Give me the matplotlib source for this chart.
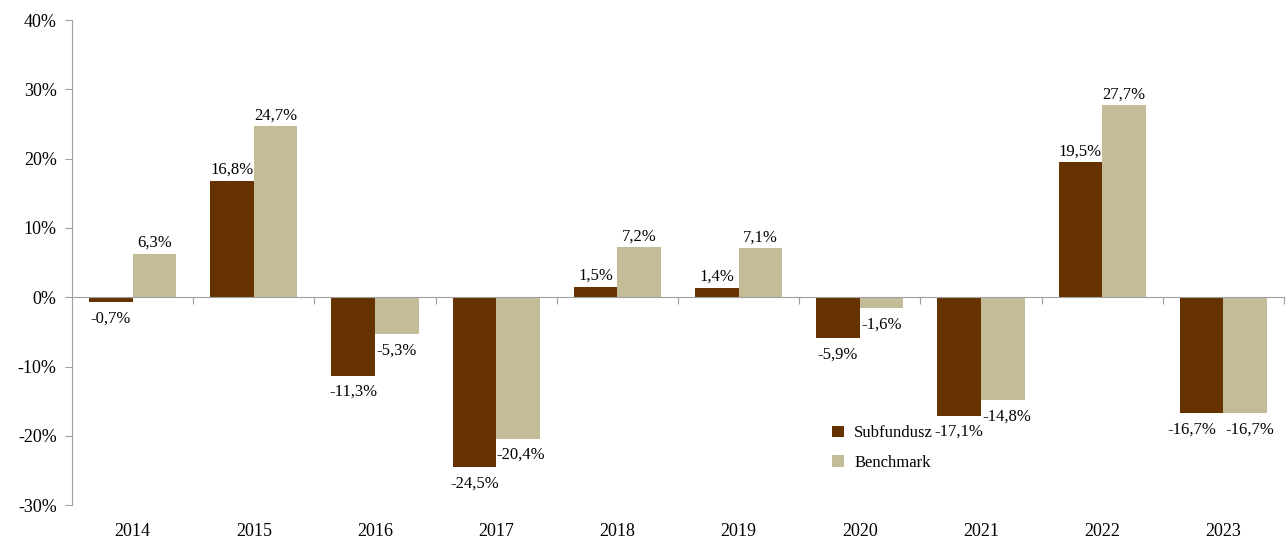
import numpy as np
import matplotlib
matplotlib.use("Agg")
import matplotlib.pyplot as plt
from matplotlib.ticker import FuncFormatter
import matplotlib.transforms as mtransforms

years = ["2014", "2015", "2016", "2017", "2018", "2019", "2020", "2021", "2022", "2023"]
subfundusz = [-0.7, 16.8, -11.3, -24.5, 1.5, 1.4, -5.9, -17.1, 19.5, -16.7]
benchmark = [6.3, 24.7, -5.3, -20.4, 7.2, 7.1, -1.6, -14.8, 27.7, -16.7]

plt.rcParams["font.family"] = ["Liberation Serif", "DejaVu Serif"]

fig = plt.figure(figsize=(12.86, 5.42), dpi=100)
ax = fig.add_axes([0.056, 0.068, 0.9425, 0.895])

x = np.arange(len(years))
w = 0.36
b1 = ax.bar(x - w / 2, subfundusz, w, color="#663300", label="Subfundusz")
b2 = ax.bar(x + w / 2, benchmark, w, color="#C4BC96", label="Benchmark")


def fmt(v):
    return f"{v:.1f}%".replace(".", ",")


# small sideways nudges where neighbouring labels would collide
nudge_sub = {9: -7}
nudge_bench = {3: 2, 7: 3, 9: 3}

for bars, vals, nudge in ((b1, subfundusz, nudge_sub), (b2, benchmark, nudge_bench)):
    for i, (bar, v) in enumerate(zip(bars, vals)):
        cx = bar.get_x() + bar.get_width() / 2
        dx = nudge.get(i, 0)
        if v >= 0:
            ax.annotate(fmt(v), (cx, v), xytext=(dx, 2), textcoords="offset points",
                        ha="center", va="bottom", fontsize=12)
        else:
            ax.annotate(fmt(v), (cx, v), xytext=(dx, -6), textcoords="offset points",
                        ha="center", va="top", fontsize=12)

ax.set_xlim(-0.5, len(years) - 0.5)
ax.set_ylim(-30, 40)
ax.set_yticks(np.arange(-30, 41, 10))
ax.yaxis.set_major_formatter(FuncFormatter(lambda v, p: f"{v:.0f}%"))
ax.tick_params(axis="y", labelsize=13, length=5, color="#a0a0a0", pad=6)

# x axis drawn at zero, year labels at the bottom
ax.spines["top"].set_visible(False)
ax.spines["right"].set_visible(False)
ax.spines["left"].set_color("#a0a0a0")
ax.spines["bottom"].set_position(("data", 0))
ax.spines["bottom"].set_color("#a0a0a0")
ax.set_xticks(np.arange(len(years) + 1) - 0.5)
ax.set_xticklabels([])
ax.tick_params(axis="x", length=5, color="#a0a0a0", direction="out")

trans = mtransforms.blended_transform_factory(ax.transData, ax.transAxes)
for xi, yr in zip(x, years):
    ax.text(xi, -0.055, yr, transform=trans, ha="center", va="center", fontsize=13)

ax.legend(loc="lower left", bbox_to_anchor=(0.615, 0.04), frameon=False, fontsize=12,
          handlelength=0.7, handleheight=0.7, handletextpad=0.6, labelspacing=0.8)

plt.savefig("out.png", dpi=100)
plt.close("all")
